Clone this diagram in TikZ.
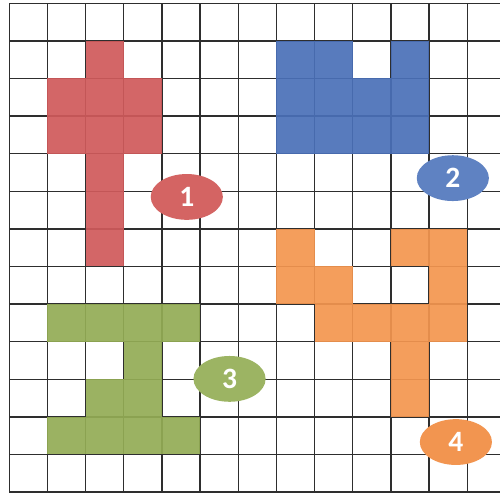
\documentclass[tikz,border=0pt]{standalone}
\usepackage{fontspec}
\setmainfont{Carlito}
\usetikzlibrary{shapes.geometric}
\definecolor{GridGray}{HTML}{2E2E2E}
\definecolor{CellRed}{HTML}{D05A5B}
\definecolor{CellBlue}{HTML}{4A70B8}
\definecolor{CellGreen}{HTML}{93AC55}
\definecolor{CellOrange}{HTML}{F4964F}
\definecolor{TagRed}{HTML}{D46463}
\definecolor{TagBlue}{HTML}{5F82C2}
\definecolor{TagGreen}{HTML}{9CB463}
\definecolor{TagOrange}{HTML}{F29550}

\begin{document}
\begin{tikzpicture}[x=1cm,y=-0.985cm,
  gridline/.style={draw=GridGray,line width=1pt},
  cell/.style={fill opacity=0.92},
  tag/.style={ellipse,minimum width=1.89cm,minimum height=1.2cm,inner sep=0pt,
    text=white,font=\fontsize{22}{22}\selectfont\bfseries}]
\useasboundingbox (-0.244,-0.088) rectangle (12.856,13.05);
\fill[white] (-0.244,-0.088) rectangle (12.856,13.05);
% grid
\foreach \x in {0,...,12}
  \draw[gridline] (\x,0) -- (\x,13);
\foreach \y in {0,...,13}
  \draw[gridline] (0,\y) -- (12.856,\y);
% shape 1
\foreach \c/\r in {2/1,1/2,2/2,3/2,1/3,2/3,3/3,2/4,2/5,2/6}
  \fill[cell,CellRed] (\c,\r) rectangle ++(1,1);
% shape 2
\foreach \c/\r in {7/1,8/1,10/1,7/2,8/2,9/2,10/2,7/3,8/3,9/3,10/3}
  \fill[cell,CellBlue] (\c,\r) rectangle ++(1,1);
% shape 3
\foreach \c/\r in {1/8,2/8,3/8,4/8,3/9,2/10,3/10,1/11,2/11,3/11,4/11}
  \fill[cell,CellGreen] (\c,\r) rectangle ++(1,1);
% shape 4
\foreach \c/\r in {7/6,10/6,11/6,7/7,8/7,11/7,8/8,9/8,10/8,11/8,10/9,10/10}
  \fill[cell,CellOrange] (\c,\r) rectangle ++(1,1);
% labels
\node[tag,fill=TagRed] (tag1) at (4.65,5.15) {1};
\node[tag,fill=TagBlue] (tag2) at (11.62,4.65) {2};
\node[tag,fill=TagGreen] (tag3) at (5.77,9.99) {3};
\node[tag,fill=TagOrange] (tag4) at (11.70,11.67) {4};
\end{tikzpicture}
\end{document}
